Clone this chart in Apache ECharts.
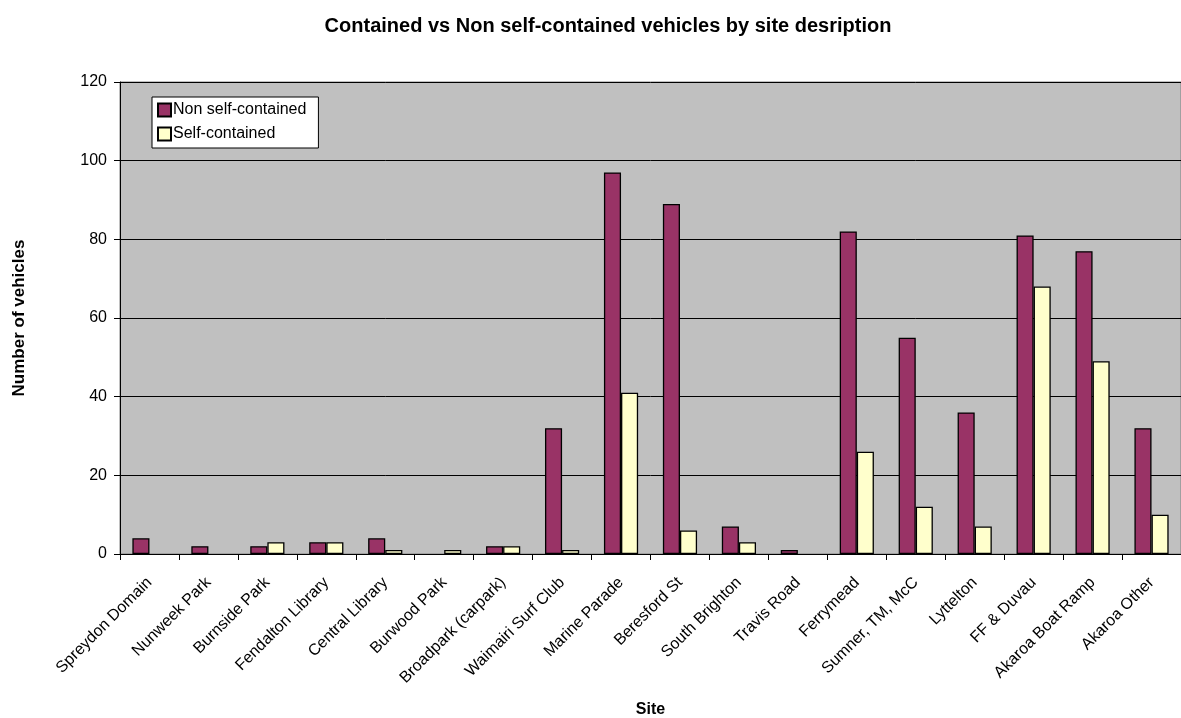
<!DOCTYPE html>
<html>
<head>
<meta charset="utf-8">
<script src="https://cdn.jsdelivr.net/npm/echarts@6/dist/echarts.min.js"></script>
<style>
  html, body { margin: 0; padding: 0; background: #fff; }
  #chart { width: 1181px; height: 718px; }
</style>
</head>
<body>
<div id="chart"></div>
<script>
// Sites surveyed
const sites = [
  'Spreydon Domain', 'Nunweek Park', 'Burnside Park', 'Fendalton Library',
  'Central Library', 'Burwood Park', 'Broadpark (carpark)', 'Waimairi Surf Club',
  'Marine Parade', 'Beresford St', 'South Brighton', 'Travis Road',
  'Ferrymead', 'Sumner, TM, McC', 'Lyttelton', 'FF & Duvau',
  'Akaroa Boat Ramp', 'Akaroa Other'
];

// Vehicle counts per site
const nonSelfContained = [4, 2, 2, 3, 4, 0, 2, 32, 97, 89, 7, 1, 82, 55, 36, 81, 77, 32];
const selfContained    = [0, 0, 3, 3, 1, 1, 2, 1, 41, 6, 3, 0, 26, 12, 7, 68, 49, 10];

const seriesNames = ['Non self-contained', 'Self-contained'];

const FONT = 'Liberation Sans, Arial, sans-serif';

// zero counts get no outline so no flat bar is drawn
function barData(values) {
  return values.map(v => v === 0 ? { value: v, itemStyle: { borderWidth: 0 } } : v);
}

const chart = echarts.init(document.getElementById('chart'), null, { renderer: 'canvas' });

chart.setOption({
  animation: false,
  backgroundColor: '#ffffff',
  title: {
    text: 'Contained vs Non self-contained vehicles by site desription',
    left: 603,
    textAlign: 'center',
    top: 11,
    textStyle: { fontFamily: FONT, fontSize: 20, fontWeight: 'bold', color: '#000' }
  },
  legend: {
    orient: 'vertical',
    left: 152,
    top: 97,
    padding: [5, 12, 6, 5],
    itemGap: 8,
    itemWidth: 13,
    itemHeight: 13,
    icon: 'rect',
    backgroundColor: '#ffffff',
    borderColor: '#000000',
    borderWidth: 1,
    textStyle: { fontFamily: FONT, fontSize: 16, lineHeight: 16, color: '#000', padding: [0, 0, 0, -3] },
    data: seriesNames
  },
  grid: {
    left: 120,
    right: 0,
    top: 82,
    bottom: 164,
    outerBoundsMode: 'none',
    show: true,
    backgroundColor: '#C0C0C0',
    borderColor: '#808080',
    borderWidth: 1
  },
  xAxis: {
    type: 'category',
    data: sites,
    name: 'Site',
    nameLocation: 'middle',
    nameGap: 148,
    nameTextStyle: { fontFamily: FONT, fontSize: 16, fontWeight: 'bold', color: '#000' },
    axisLine: { lineStyle: { color: '#000', width: 1 } },
    axisTick: { show: true, length: 6, alignWithLabel: false, lineStyle: { color: '#000' } },
    axisLabel: {
      interval: 0,
      rotate: 45,
      margin: 26,
      fontFamily: FONT,
      fontSize: 16,
      color: '#000'
    }
  },
  yAxis: {
    type: 'value',
    min: 0,
    max: 120,
    interval: 20,
    name: 'Number of vehicles',
    nameLocation: 'middle',
    nameGap: 92,
    nameRotate: 90,
    nameTextStyle: { fontFamily: FONT, fontSize: 17, fontWeight: 'bold', color: '#000' },
    axisLine: { show: true, lineStyle: { color: '#000', width: 1 } },
    axisTick: { show: true, length: 6, lineStyle: { color: '#000' } },
    axisLabel: { fontFamily: FONT, fontSize: 16, color: '#000', margin: 13 },
    splitLine: { show: true, lineStyle: { color: '#000', width: 1 } }
  },
  series: [
    {
      name: seriesNames[0],
      type: 'bar',
      data: barData(nonSelfContained),
      barGap: '0%',
      barCategoryGap: '42%',
      itemStyle: { color: '#993366', borderColor: '#000', borderWidth: 1.3 }
    },
    {
      name: seriesNames[1],
      type: 'bar',
      data: barData(selfContained),
      itemStyle: { color: '#FFFFCC', borderColor: '#000', borderWidth: 1.3 }
    }
  ]
});
</script>
</body>
</html>
